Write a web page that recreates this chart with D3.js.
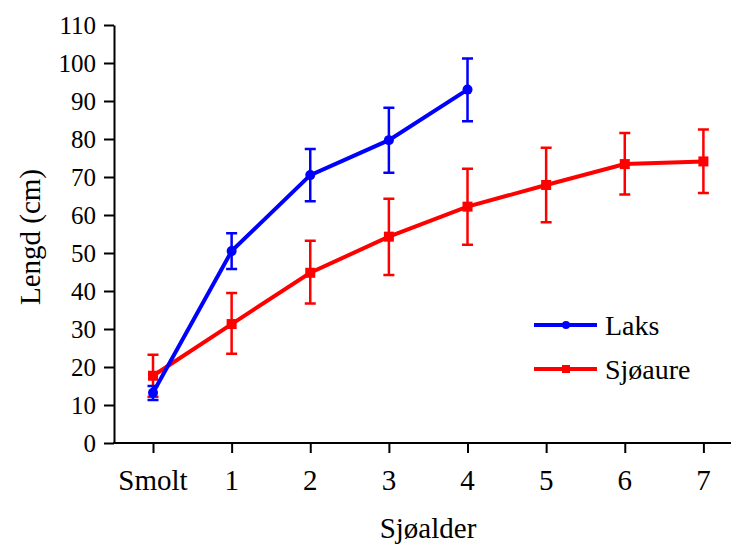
<!DOCTYPE html>
<html>
<head>
<meta charset="utf-8">
<script src="https://cdn.jsdelivr.net/npm/d3@7"></script>
</head>
<body style="margin:0">
<svg id="chart" width="731" height="544"></svg>
<script>
const categories = ["Smolt", "1", "2", "3", "4", "5", "6", "7"];
const yTicks = d3.range(0, 111, 10);

// mean, low, high
const laksMean = [13.2, 50.5, 70.5, 79.7, 93.0];
const laksLow  = [11.3, 45.8, 63.6, 71.1, 84.7];
const laksHigh = [15.0, 55.2, 77.4, 88.2, 101.2];

const sjoMean = [17.7, 31.3, 44.8, 54.3, 62.2, 67.9, 73.4, 74.1];
const sjoLow  = [12.2, 23.5, 36.7, 44.2, 52.2, 58.1, 65.4, 65.8];
const sjoHigh = [23.2, 39.5, 53.2, 64.3, 72.2, 77.7, 81.6, 82.5];

const series = [
    {name: "Sjøaure", color: "#ff0000", shape: "square", mean: sjoMean, low: sjoLow, high: sjoHigh},
    {name: "Laks", color: "#0000ff", shape: "circle", mean: laksMean, low: laksLow, high: laksHigh}
];

const svg = d3.select("#chart");
const fam = "Liberation Serif";

const x = d3.scalePoint().domain(categories).range([153, 703.4]);
const y = d3.scaleLinear().domain([0, 110]).range([443, 25]);

// axes: lines from d3.axis, labels added below
const yAxis = svg.append("g").attr("transform", "translate(114,0)")
    .call(d3.axisLeft(y).tickValues(yTicks).tickSize(10).tickFormat("").tickSizeOuter(0));
yAxis.select(".domain").attr("stroke", "#000").attr("stroke-width", 2);
yAxis.selectAll(".tick line").attr("stroke", "#000").attr("stroke-width", 2);
yAxis.selectAll(".tick text").remove();

const xAxis = svg.append("g").attr("transform", "translate(0,443)")
    .call(d3.axisBottom(x).tickSize(10).tickFormat("").tickSizeOuter(0));
xAxis.select(".domain").attr("d", "M113,0H731").attr("stroke", "#000").attr("stroke-width", 2);
xAxis.selectAll(".tick line").attr("stroke", "#000").attr("stroke-width", 2);
xAxis.selectAll(".tick text").remove();

svg.selectAll(".ylab").data(yTicks).enter().append("text")
    .attr("class", "ylab")
    .attr("x", 96).attr("y", d => y(d) + 8.5)
    .attr("text-anchor", "end")
    .attr("font-size", 25)
    .style("font-family", d => "'" + fam + "', monospace")
    .text(d => d);

svg.selectAll(".xlab").data(categories).enter().append("text")
    .attr("class", "xlab")
    .attr("x", d => x(d)).attr("y", 490)
    .attr("text-anchor", "middle")
    .attr("font-size", 29)
    .style("font-family", d => "'" + fam + "', monospace")
    .text(d => d);

// titles
const titles = [
    {t: "Lengd (cm)", x: 0, y: 0, tr: "translate(40,237) rotate(-90)"},
    {t: "Sjøalder", x: 428, y: 538, tr: null}
];
svg.selectAll(".title").data(titles).enter().append("text")
    .attr("class", "title")
    .attr("x", d => d.x).attr("y", d => d.y)
    .attr("transform", d => d.tr)
    .attr("text-anchor", "middle")
    .attr("font-size", 29)
    .style("font-family", d => "'" + fam + "', monospace")
    .text(d => d.t);

const line = d3.line()
    .x((d, i) => x(categories[i]))
    .y(d => y(d));

function marker(sel, s, cx, cy, size) {
    if (s.shape === "circle") {
        sel.append("circle").attr("cx", cx).attr("cy", cy).attr("r", size / 2)
            .attr("fill", s.color);
    } else {
        sel.append("rect").attr("x", cx - size / 2).attr("y", cy - size / 2)
            .attr("width", size).attr("height", size).attr("fill", s.color);
    }
}

series.forEach(s => {
    const g = svg.append("g");
    g.append("path")
        .attr("d", line(s.mean))
        .attr("fill", "none")
        .attr("stroke", s.color)
        .attr("stroke-width", 4);

    g.selectAll(".err").data(s.mean).enter().append("path")
        .attr("class", "err")
        .attr("d", (d, i) => {
            const cx = x(categories[i]), y0 = y(s.low[i]), y1 = y(s.high[i]);
            return "M" + cx + "," + y0 + "V" + y1 +
                "M" + (cx - 5.5) + "," + y1 + "h11" +
                "M" + (cx - 5.5) + "," + y0 + "h11";
        })
        .attr("fill", "none")
        .attr("stroke", s.color)
        .attr("stroke-width", 2.5);

    s.mean.forEach((d, i) => marker(g, s, x(categories[i]), y(d), 10));
});

// legend
const legend = [series[1], series[0]];
legend.forEach((s, i) => {
    const ly = 325 + i * 44;
    const g = svg.append("g");
    g.append("line").attr("x1", 534).attr("x2", 597).attr("y1", ly).attr("y2", ly)
        .attr("stroke", s.color).attr("stroke-width", 4);
    marker(g, s, 566, ly, 8);
});
svg.selectAll(".leg").data(legend).enter().append("text")
    .attr("class", "leg")
    .attr("x", 605).attr("y", (d, i) => 335 + i * 44)
    .attr("font-size", 28)
    .style("font-family", d => "'" + fam + "', monospace")
    .text(d => d.name);
</script>
</body>
</html>
